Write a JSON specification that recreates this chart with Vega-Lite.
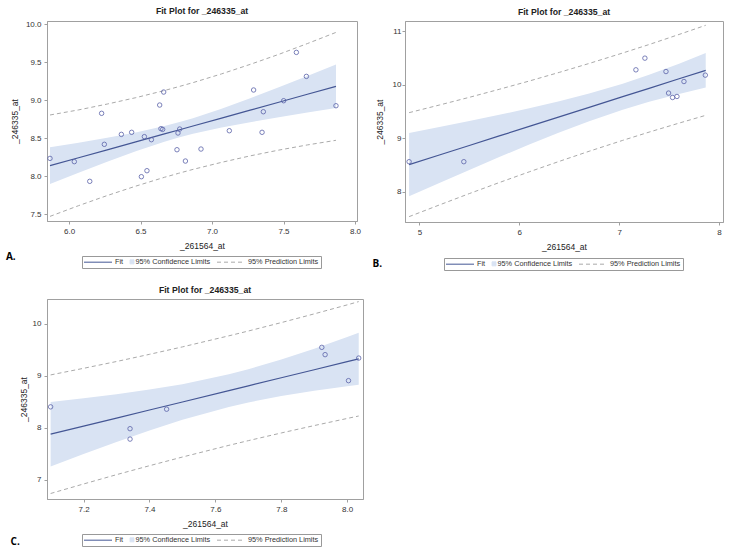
{
  "$schema": "https://vega.github.io/schema/vega-lite/v6.json",
  "background": "white",
  "padding": {"left": 5, "top": 6, "right": 0, "bottom": 0},
  "config": {
    "font": "Liberation Sans",
    "view": {"stroke": "#a0a0a0", "strokeWidth": 1},
    "axis": {
      "labelFont": "Liberation Sans", "labelFontSize": 8, "labelColor": "#333333",
      "titleFont": "Liberation Sans", "titleFontSize": 8.5, "titleFontWeight": "normal", "titleColor": "#222222",
      "domainColor": "#a0a0a0", "tickColor": "#a0a0a0", "tickSize": 3, "grid": false,
      "labelPadding": 3, "titlePadding": 6, "labelOverlap": false, "labelFlush": false, "labelBound": false
    },
    "title": {"font": "Liberation Sans", "fontSize": 8.7, "fontWeight": "bold", "color": "#222222", "offset": 4},
    "legend": {
      "orient": "none", "direction": "horizontal", "title": null,
      "labelFont": "Liberation Sans", "labelFontSize": 7.3, "labelColor": "#333333",
      "symbolSize": 16, "symbolStrokeWidth": 1, "labelOffset": 3, "columnPadding": 4,
      "strokeColor": "#999999", "fillColor": "white", "padding": 2
    }
  },
  "datasets": {
    "a_pts": [
      {"x": 5.867, "y": 8.232}, {"x": 6.037, "y": 8.189}, {"x": 6.145, "y": 7.930}, {"x": 6.228, "y": 8.825},
      {"x": 6.247, "y": 8.417}, {"x": 6.366, "y": 8.548}, {"x": 6.438, "y": 8.575}, {"x": 6.506, "y": 7.991},
      {"x": 6.527, "y": 8.518}, {"x": 6.545, "y": 8.070}, {"x": 6.576, "y": 8.478}, {"x": 6.634, "y": 8.934},
      {"x": 6.643, "y": 8.623}, {"x": 6.655, "y": 8.614}, {"x": 6.662, "y": 9.105}, {"x": 6.755, "y": 8.346},
      {"x": 6.762, "y": 8.566}, {"x": 6.774, "y": 8.618}, {"x": 6.814, "y": 8.197}, {"x": 6.923, "y": 8.355},
      {"x": 7.121, "y": 8.596}, {"x": 7.291, "y": 9.132}, {"x": 7.350, "y": 8.575}, {"x": 7.359, "y": 8.846},
      {"x": 7.501, "y": 8.991}, {"x": 7.590, "y": 9.627}, {"x": 7.660, "y": 9.311}, {"x": 7.867, "y": 8.925}
    ],
    "a_fit": [
      {"x": 5.867, "fit": 8.136, "lclm": 7.895, "uclm": 8.377, "lpl": 7.469, "upl": 8.803},
      {"x": 6.067, "fit": 8.240, "lclm": 8.042, "uclm": 8.438, "lpl": 7.610, "upl": 8.870},
      {"x": 6.267, "fit": 8.345, "lclm": 8.187, "uclm": 8.503, "lpl": 7.743, "upl": 8.947},
      {"x": 6.467, "fit": 8.449, "lclm": 8.325, "uclm": 8.573, "lpl": 7.867, "upl": 9.031},
      {"x": 6.667, "fit": 8.554, "lclm": 8.451, "uclm": 8.657, "lpl": 7.983, "upl": 9.125},
      {"x": 6.767, "fit": 8.606, "lclm": 8.506, "uclm": 8.706, "lpl": 8.036, "upl": 9.176},
      {"x": 6.867, "fit": 8.658, "lclm": 8.555, "uclm": 8.761, "lpl": 8.087, "upl": 9.229},
      {"x": 7.067, "fit": 8.762, "lclm": 8.638, "uclm": 8.886, "lpl": 8.180, "upl": 9.344},
      {"x": 7.267, "fit": 8.867, "lclm": 8.709, "uclm": 9.025, "lpl": 8.265, "upl": 9.469},
      {"x": 7.467, "fit": 8.971, "lclm": 8.773, "uclm": 9.169, "lpl": 8.341, "upl": 9.601},
      {"x": 7.667, "fit": 9.076, "lclm": 8.835, "uclm": 9.317, "lpl": 8.409, "upl": 9.743},
      {"x": 7.867, "fit": 9.180, "lclm": 8.894, "uclm": 9.466, "lpl": 8.470, "upl": 9.890}
    ],
    "b_pts": [
      {"x": 4.897, "y": 8.565}, {"x": 5.445, "y": 8.565}, {"x": 7.168, "y": 10.279}, {"x": 7.258, "y": 10.497},
      {"x": 7.469, "y": 10.247}, {"x": 7.495, "y": 9.845}, {"x": 7.535, "y": 9.763}, {"x": 7.579, "y": 9.782},
      {"x": 7.649, "y": 10.061}, {"x": 7.863, "y": 10.180}
    ],
    "b_fit": [
      {"x": 4.897, "fit": 8.510, "lclm": 7.920, "uclm": 9.100, "lpl": 7.540, "upl": 9.480},
      {"x": 5.2, "fit": 8.690, "lclm": 8.169, "uclm": 9.211, "lpl": 7.758, "upl": 9.622},
      {"x": 5.5, "fit": 8.868, "lclm": 8.412, "uclm": 9.324, "lpl": 7.970, "upl": 9.766},
      {"x": 5.8, "fit": 9.046, "lclm": 8.652, "uclm": 9.440, "lpl": 8.176, "upl": 9.916},
      {"x": 6.1, "fit": 9.223, "lclm": 8.885, "uclm": 9.561, "lpl": 8.376, "upl": 10.070},
      {"x": 6.4, "fit": 9.401, "lclm": 9.110, "uclm": 9.692, "lpl": 8.571, "upl": 10.231},
      {"x": 6.7, "fit": 9.579, "lclm": 9.321, "uclm": 9.837, "lpl": 8.760, "upl": 10.398},
      {"x": 7.036, "fit": 9.778, "lclm": 9.535, "uclm": 10.021, "lpl": 8.963, "upl": 10.593},
      {"x": 7.3, "fit": 9.934, "lclm": 9.682, "uclm": 10.186, "lpl": 9.117, "upl": 10.751},
      {"x": 7.6, "fit": 10.112, "lclm": 9.830, "uclm": 10.394, "lpl": 9.285, "upl": 10.939},
      {"x": 7.867, "fit": 10.270, "lclm": 9.949, "uclm": 10.591, "lpl": 9.430, "upl": 11.110}
    ],
    "c_pts": [
      {"x": 7.100, "y": 8.400}, {"x": 7.341, "y": 7.980}, {"x": 7.341, "y": 7.780}, {"x": 7.452, "y": 8.355},
      {"x": 7.923, "y": 9.544}, {"x": 7.933, "y": 9.404}, {"x": 8.004, "y": 8.904}, {"x": 8.035, "y": 9.338}
    ],
    "c_fit": [
      {"x": 7.100, "fit": 7.874, "lclm": 7.254, "uclm": 8.494, "lpl": 6.734, "upl": 9.014},
      {"x": 7.2, "fit": 8.029, "lclm": 7.492, "uclm": 8.566, "lpl": 6.917, "upl": 9.141},
      {"x": 7.3, "fit": 8.184, "lclm": 7.724, "uclm": 8.644, "lpl": 7.096, "upl": 9.272},
      {"x": 7.4, "fit": 8.339, "lclm": 7.945, "uclm": 8.733, "lpl": 7.268, "upl": 9.410},
      {"x": 7.5, "fit": 8.494, "lclm": 8.151, "uclm": 8.837, "lpl": 7.435, "upl": 9.553},
      {"x": 7.641, "fit": 8.713, "lclm": 8.399, "uclm": 9.027, "lpl": 7.660, "upl": 9.766},
      {"x": 7.7, "fit": 8.804, "lclm": 8.485, "uclm": 9.123, "lpl": 7.750, "upl": 9.858},
      {"x": 7.8, "fit": 8.959, "lclm": 8.608, "uclm": 9.310, "lpl": 7.898, "upl": 10.020},
      {"x": 7.9, "fit": 9.114, "lclm": 8.709, "uclm": 9.519, "lpl": 8.040, "upl": 10.188},
      {"x": 8.0, "fit": 9.269, "lclm": 8.796, "uclm": 9.742, "lpl": 8.177, "upl": 10.361},
      {"x": 8.035, "fit": 9.324, "lclm": 8.824, "uclm": 9.824, "lpl": 8.224, "upl": 10.424}
    ]
  },
  "concat": [
    {
      "vconcat": [
        {
          "width": 310, "height": 200,
          "title": {"text": "Fit Plot for _246335_at"},
          "encoding": {
            "x": {"field": "x", "type": "quantitative", "title": "_261564_at",
                  "scale": {"domain": [5.846, 8.014], "nice": false, "zero": false},
                  "axis": {"values": [6, 6.5, 7, 7.5, 8], "format": ".1f", "labelOverlap": false}}
          },
          "layer": [
            {"data": {"name": "a_fit"}, "mark": {"type": "area", "color": "#d9e3f3"},
             "encoding": {"y": {"field": "lclm", "type": "quantitative", "title": "_246335_at",
                                "scale": {"domain": [7.408, 10.04], "nice": false, "zero": false},
                                "axis": {"values": [7.5, 8, 8.5, 9, 9.5, 10], "format": ".1f", "labelOverlap": false, "labelPadding": 3, "titlePadding": 6}},
                          "y2": {"field": "uclm"}}},
            {"data": {"name": "a_fit"}, "mark": {"type": "line", "color": "#aaaaaa", "strokeDash": [4, 3], "strokeWidth": 1},
             "encoding": {"y": {"field": "lpl", "type": "quantitative", "title": "_246335_at",
                                "scale": {"domain": [7.408, 10.04], "nice": false, "zero": false},
                                "axis": {"values": [7.5, 8, 8.5, 9, 9.5, 10], "format": ".1f", "labelOverlap": false, "labelPadding": 3, "titlePadding": 6}}}},
            {"data": {"name": "a_fit"}, "mark": {"type": "line", "color": "#aaaaaa", "strokeDash": [4, 3], "strokeWidth": 1},
             "encoding": {"y": {"field": "upl", "type": "quantitative", "title": "_246335_at",
                                "scale": {"domain": [7.408, 10.04], "nice": false, "zero": false},
                                "axis": {"values": [7.5, 8, 8.5, 9, 9.5, 10], "format": ".1f", "labelOverlap": false, "labelPadding": 3, "titlePadding": 6}}}},
            {"data": {"name": "a_fit"}, "mark": {"type": "line", "strokeWidth": 1.2},
             "encoding": {"y": {"field": "fit", "type": "quantitative", "title": "_246335_at",
                                "scale": {"domain": [7.408, 10.04], "nice": false, "zero": false},
                                "axis": {"values": [7.5, 8, 8.5, 9, 9.5, 10], "format": ".1f", "labelOverlap": false, "labelPadding": 3, "titlePadding": 6}},
                          "color": {"datum": "Fit",
                                    "scale": {"domain": ["Fit", "95% Confidence Limits", "95% Prediction Limits"], "range": ["#445694", "#d9e3f3", "#aaaaaa"]},
                                    "legend": {"legendX": 35, "legendY": 235,
                                      "encode": {
                                        "symbols": {"update": {
                                          "shape": {"signal": "datum.value === '95% Confidence Limits' ? 'square' : 'M0,0H14'"},
                                          "x": {"signal": "datum.value === '95% Confidence Limits' ? 2 : 0"},
                                          "fill": {"signal": "datum.value === '95% Confidence Limits' ? '#d9e3f3' : 'transparent'"},
                                          "stroke": {"signal": "datum.value === 'Fit' ? '#445694' : (datum.value === '95% Confidence Limits' ? '#777777' : '#aaaaaa')"},
                                          "strokeDash": {"signal": "datum.value === '95% Prediction Limits' ? [4, 3] : [1, 0]"},
                                          "strokeWidth": {"value": 1},
                                          "strokeOpacity": {"value": 1},
                                          "fillOpacity": {"value": 1},
                                          "opacity": {"value": 1}}},
                                        "labels": {"update": {"x": {"signal": "datum.value === '95% Confidence Limits' ? 5.5 : 31"}}}
                                      }}}}},
            {"data": {"name": "a_pts"}, "mark": {"type": "point", "shape": "circle", "filled": false, "size": 20, "color": "#5b62a8", "strokeWidth": 0.8, "opacity": 1},
             "encoding": {"y": {"field": "y", "type": "quantitative", "title": "_246335_at",
                                "scale": {"domain": [7.408, 10.04], "nice": false, "zero": false},
                                "axis": {"values": [7.5, 8, 8.5, 9, 9.5, 10], "format": ".1f", "labelOverlap": false, "labelPadding": 3, "titlePadding": 6}}}}
          ]
        }
      ],
      "title": {"text": "A.", "orient": "bottom", "anchor": "start", "font": "Open Sans", "fontSize": 10, "fontWeight": "bold", "color": "#000000", "offset": -17, "dx": -4}
    },
    {
      "vconcat": [
        {
          "width": 318, "height": 201,
          "title": {"text": "Fit Plot for _246335_at"},
          "encoding": {
            "x": {"field": "x", "type": "quantitative", "title": "_261564_at",
                  "scale": {"domain": [4.856, 8.04], "nice": false, "zero": false},
                  "axis": {"values": [5, 6, 7, 8], "format": "d", "labelOverlap": false}}
          },
          "layer": [
            {"data": {"name": "b_fit"}, "mark": {"type": "area", "color": "#d9e3f3"},
             "encoding": {"y": {"field": "lclm", "type": "quantitative", "title": "_246335_at",
                                "scale": {"domain": [7.44, 11.19], "nice": false, "zero": false},
                                "axis": {"values": [8, 9, 10, 11], "format": "d", "labelOverlap": false, "labelPadding": 1, "titlePadding": 8}},
                          "y2": {"field": "uclm"}}},
            {"data": {"name": "b_fit"}, "mark": {"type": "line", "color": "#aaaaaa", "strokeDash": [4, 3], "strokeWidth": 1},
             "encoding": {"y": {"field": "lpl", "type": "quantitative", "title": "_246335_at",
                                "scale": {"domain": [7.44, 11.19], "nice": false, "zero": false},
                                "axis": {"values": [8, 9, 10, 11], "format": "d", "labelOverlap": false, "labelPadding": 1, "titlePadding": 8}}}},
            {"data": {"name": "b_fit"}, "mark": {"type": "line", "color": "#aaaaaa", "strokeDash": [4, 3], "strokeWidth": 1},
             "encoding": {"y": {"field": "upl", "type": "quantitative", "title": "_246335_at",
                                "scale": {"domain": [7.44, 11.19], "nice": false, "zero": false},
                                "axis": {"values": [8, 9, 10, 11], "format": "d", "labelOverlap": false, "labelPadding": 1, "titlePadding": 8}}}},
            {"data": {"name": "b_fit"}, "mark": {"type": "line", "strokeWidth": 1.2},
             "encoding": {"y": {"field": "fit", "type": "quantitative", "title": "_246335_at",
                                "scale": {"domain": [7.44, 11.19], "nice": false, "zero": false},
                                "axis": {"values": [8, 9, 10, 11], "format": "d", "labelOverlap": false, "labelPadding": 1, "titlePadding": 8}},
                          "color": {"datum": "Fit",
                                    "scale": {"domain": ["Fit", "95% Confidence Limits", "95% Prediction Limits"], "range": ["#445694", "#d9e3f3", "#aaaaaa"]},
                                    "legend": {"legendX": 39, "legendY": 237,
                                      "encode": {
                                        "symbols": {"update": {
                                          "shape": {"signal": "datum.value === '95% Confidence Limits' ? 'square' : 'M0,0H14'"},
                                          "x": {"signal": "datum.value === '95% Confidence Limits' ? 2 : 0"},
                                          "fill": {"signal": "datum.value === '95% Confidence Limits' ? '#d9e3f3' : 'transparent'"},
                                          "stroke": {"signal": "datum.value === 'Fit' ? '#445694' : (datum.value === '95% Confidence Limits' ? '#777777' : '#aaaaaa')"},
                                          "strokeDash": {"signal": "datum.value === '95% Prediction Limits' ? [4, 3] : [1, 0]"},
                                          "strokeWidth": {"value": 1},
                                          "strokeOpacity": {"value": 1},
                                          "fillOpacity": {"value": 1},
                                          "opacity": {"value": 1}}},
                                        "labels": {"update": {"x": {"signal": "datum.value === '95% Confidence Limits' ? 5.5 : 31"}}}
                                      }}}}},
            {"data": {"name": "b_pts"}, "mark": {"type": "point", "shape": "circle", "filled": false, "size": 20, "color": "#5b62a8", "strokeWidth": 0.8, "opacity": 1},
             "encoding": {"y": {"field": "y", "type": "quantitative", "title": "_246335_at",
                                "scale": {"domain": [7.44, 11.19], "nice": false, "zero": false},
                                "axis": {"values": [8, 9, 10, 11], "format": "d", "labelOverlap": false, "labelPadding": 1, "titlePadding": 8}}}}
          ]
        }
      ],
      "title": {"text": "B.", "orient": "bottom", "anchor": "start", "font": "Open Sans", "fontSize": 10, "fontWeight": "bold", "color": "#000000", "offset": -12, "dx": -2}
    },
    {
      "vconcat": [
        {
          "width": 316, "height": 200,
          "title": {"text": "Fit Plot for _246335_at"},
          "encoding": {
            "x": {"field": "x", "type": "quantitative", "title": "_261564_at",
                  "scale": {"domain": [7.089, 8.048], "nice": false, "zero": false},
                  "axis": {"values": [7.2, 7.4, 7.6, 7.8, 8.0], "format": ".1f", "labelOverlap": false}}
          },
          "layer": [
            {"data": {"name": "c_fit"}, "mark": {"type": "area", "color": "#d9e3f3"},
             "encoding": {"y": {"field": "lclm", "type": "quantitative", "title": "_246335_at",
                                "scale": {"domain": [6.628, 10.474], "nice": false, "zero": false},
                                "axis": {"values": [7, 8, 9, 10], "format": "d", "labelOverlap": false, "labelPadding": 3, "titlePadding": 4}},
                          "y2": {"field": "uclm"}}},
            {"data": {"name": "c_fit"}, "mark": {"type": "line", "color": "#aaaaaa", "strokeDash": [4, 3], "strokeWidth": 1},
             "encoding": {"y": {"field": "lpl", "type": "quantitative", "title": "_246335_at",
                                "scale": {"domain": [6.628, 10.474], "nice": false, "zero": false},
                                "axis": {"values": [7, 8, 9, 10], "format": "d", "labelOverlap": false, "labelPadding": 3, "titlePadding": 4}}}},
            {"data": {"name": "c_fit"}, "mark": {"type": "line", "color": "#aaaaaa", "strokeDash": [4, 3], "strokeWidth": 1},
             "encoding": {"y": {"field": "upl", "type": "quantitative", "title": "_246335_at",
                                "scale": {"domain": [6.628, 10.474], "nice": false, "zero": false},
                                "axis": {"values": [7, 8, 9, 10], "format": "d", "labelOverlap": false, "labelPadding": 3, "titlePadding": 4}}}},
            {"data": {"name": "c_fit"}, "mark": {"type": "line", "strokeWidth": 1.2},
             "encoding": {"y": {"field": "fit", "type": "quantitative", "title": "_246335_at",
                                "scale": {"domain": [6.628, 10.474], "nice": false, "zero": false},
                                "axis": {"values": [7, 8, 9, 10], "format": "d", "labelOverlap": false, "labelPadding": 3, "titlePadding": 4}},
                          "color": {"datum": "Fit",
                                    "scale": {"domain": ["Fit", "95% Confidence Limits", "95% Prediction Limits"], "range": ["#445694", "#d9e3f3", "#aaaaaa"]},
                                    "legend": {"legendX": 35, "legendY": 235,
                                      "encode": {
                                        "symbols": {"update": {
                                          "shape": {"signal": "datum.value === '95% Confidence Limits' ? 'square' : 'M0,0H14'"},
                                          "x": {"signal": "datum.value === '95% Confidence Limits' ? 2 : 0"},
                                          "fill": {"signal": "datum.value === '95% Confidence Limits' ? '#d9e3f3' : 'transparent'"},
                                          "stroke": {"signal": "datum.value === 'Fit' ? '#445694' : (datum.value === '95% Confidence Limits' ? '#777777' : '#aaaaaa')"},
                                          "strokeDash": {"signal": "datum.value === '95% Prediction Limits' ? [4, 3] : [1, 0]"},
                                          "strokeWidth": {"value": 1},
                                          "strokeOpacity": {"value": 1},
                                          "fillOpacity": {"value": 1},
                                          "opacity": {"value": 1}}},
                                        "labels": {"update": {"x": {"signal": "datum.value === '95% Confidence Limits' ? 5.5 : 31"}}}
                                      }}}}},
            {"data": {"name": "c_pts"}, "mark": {"type": "point", "shape": "circle", "filled": false, "size": 20, "color": "#5b62a8", "strokeWidth": 0.8, "opacity": 1},
             "encoding": {"y": {"field": "y", "type": "quantitative", "title": "_246335_at",
                                "scale": {"domain": [6.628, 10.474], "nice": false, "zero": false},
                                "axis": {"values": [7, 8, 9, 10], "format": "d", "labelOverlap": false, "labelPadding": 3, "titlePadding": 4}}}}
          ]
        }
      ],
      "title": {"text": "C.", "orient": "bottom", "anchor": "start", "font": "Open Sans", "fontSize": 10, "fontWeight": "bold", "color": "#000000", "offset": -10, "dx": -8}
    }
  ],
  "columns": 2,
  "align": "none",
  "spacing": {"row": 14, "column": 8},
  "resolve": {"scale": {"color": "independent"}, "legend": {"color": "independent"}}
}
